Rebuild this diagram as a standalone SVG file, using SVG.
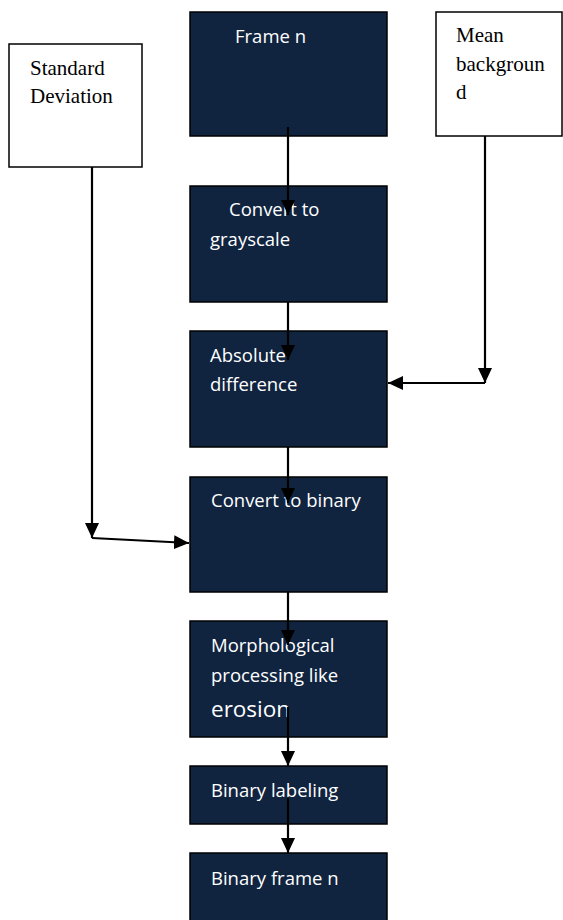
<svg xmlns="http://www.w3.org/2000/svg" width="563" height="920" viewBox="0 0 563 920">
<defs>
<style>
.dk{fill:#10243f;stroke:#000;stroke-width:1.5}
.wb{fill:#fff;stroke:#000;stroke-width:1.5}
.lt{font-family:"Open Sans","Noto Sans",sans-serif;font-size:18.5px;fill:#ffffff}
.sr{font-family:"Liberation Serif","Times New Roman",serif;font-size:21px;fill:#000}
.cn{stroke:#000;stroke-width:2.2;fill:none}
</style>
<marker id="ah" markerWidth="15" markerHeight="14" refX="15" refY="7" orient="auto" markerUnits="userSpaceOnUse" viewBox="0 0 15 14">
<path d="M0,0 L15,7 L0,14 z" fill="#000"/>
</marker>
</defs>
<rect width="563" height="920" fill="#fff"/>
<g id="std">
<rect class="wb" x="9" y="44" width="133" height="123"/>
<text class="sr" x="30" y="75">Standard</text>
<text class="sr" x="30" y="103">Deviation</text>
</g>
<g id="mean">
<rect class="wb" x="436" y="12" width="126" height="124"/>
<text class="sr" x="456" y="42">Mean</text>
<text class="sr" x="456" y="71">backgroun</text>
<text class="sr" x="456" y="99">d</text>
</g>
<g id="frame">
<rect class="dk" x="190" y="12" width="197" height="124"/>
<text class="lt" x="235" y="43">Frame n</text>
</g>
<g id="gray">
<rect class="dk" x="190" y="186" width="197" height="116"/>
<text class="lt" x="229" y="216">Convert to</text>
<text class="lt" x="210" y="246">grayscale</text>
</g>
<g id="absdiff">
<rect class="dk" x="190" y="331" width="197" height="116"/>
<text class="lt" x="210" y="362">Absolute</text>
<text class="lt" x="210" y="391">difference</text>
</g>
<g id="binary">
<rect class="dk" x="190" y="477" width="197" height="115"/>
<text class="lt" x="211" y="507">Convert to binary</text>
</g>
<g id="morph">
<rect class="dk" x="190" y="621" width="197" height="116"/>
<text class="lt" x="211" y="652">Morphological</text>
<text class="lt" x="211" y="682">processing like</text>
<text class="lt" x="211" y="717" style="font-size:22.5px">erosion</text>
</g>
<g id="label">
<rect class="dk" x="190" y="766" width="197" height="58"/>
<text class="lt" x="211" y="797">Binary labeling</text>
</g>
<g id="binframe">
<rect class="dk" x="190" y="853" width="197" height="70"/>
<text class="lt" x="211" y="885">Binary frame n</text>
</g>
<g id="connectors">
<line class="cn" x1="288" y1="127" x2="288" y2="215" marker-end="url(#ah)"/>
<line class="cn" x1="288" y1="302" x2="288" y2="360" marker-end="url(#ah)"/>
<line class="cn" x1="485" y1="136" x2="485" y2="383" marker-end="url(#ah)"/>
<line class="cn" x1="485" y1="383" x2="388" y2="383" marker-end="url(#ah)"/>
<line class="cn" x1="92" y1="167" x2="92" y2="538" marker-end="url(#ah)"/>
<line class="cn" x1="92" y1="538" x2="189" y2="543" marker-end="url(#ah)"/>
<line class="cn" x1="288" y1="447" x2="288" y2="503" marker-end="url(#ah)"/>
<line class="cn" x1="288" y1="592" x2="288" y2="645" marker-end="url(#ah)"/>
<line class="cn" x1="288" y1="707" x2="288" y2="766" marker-end="url(#ah)"/>
<line class="cn" x1="288" y1="798" x2="288" y2="853" marker-end="url(#ah)"/>
</g>
</svg>
